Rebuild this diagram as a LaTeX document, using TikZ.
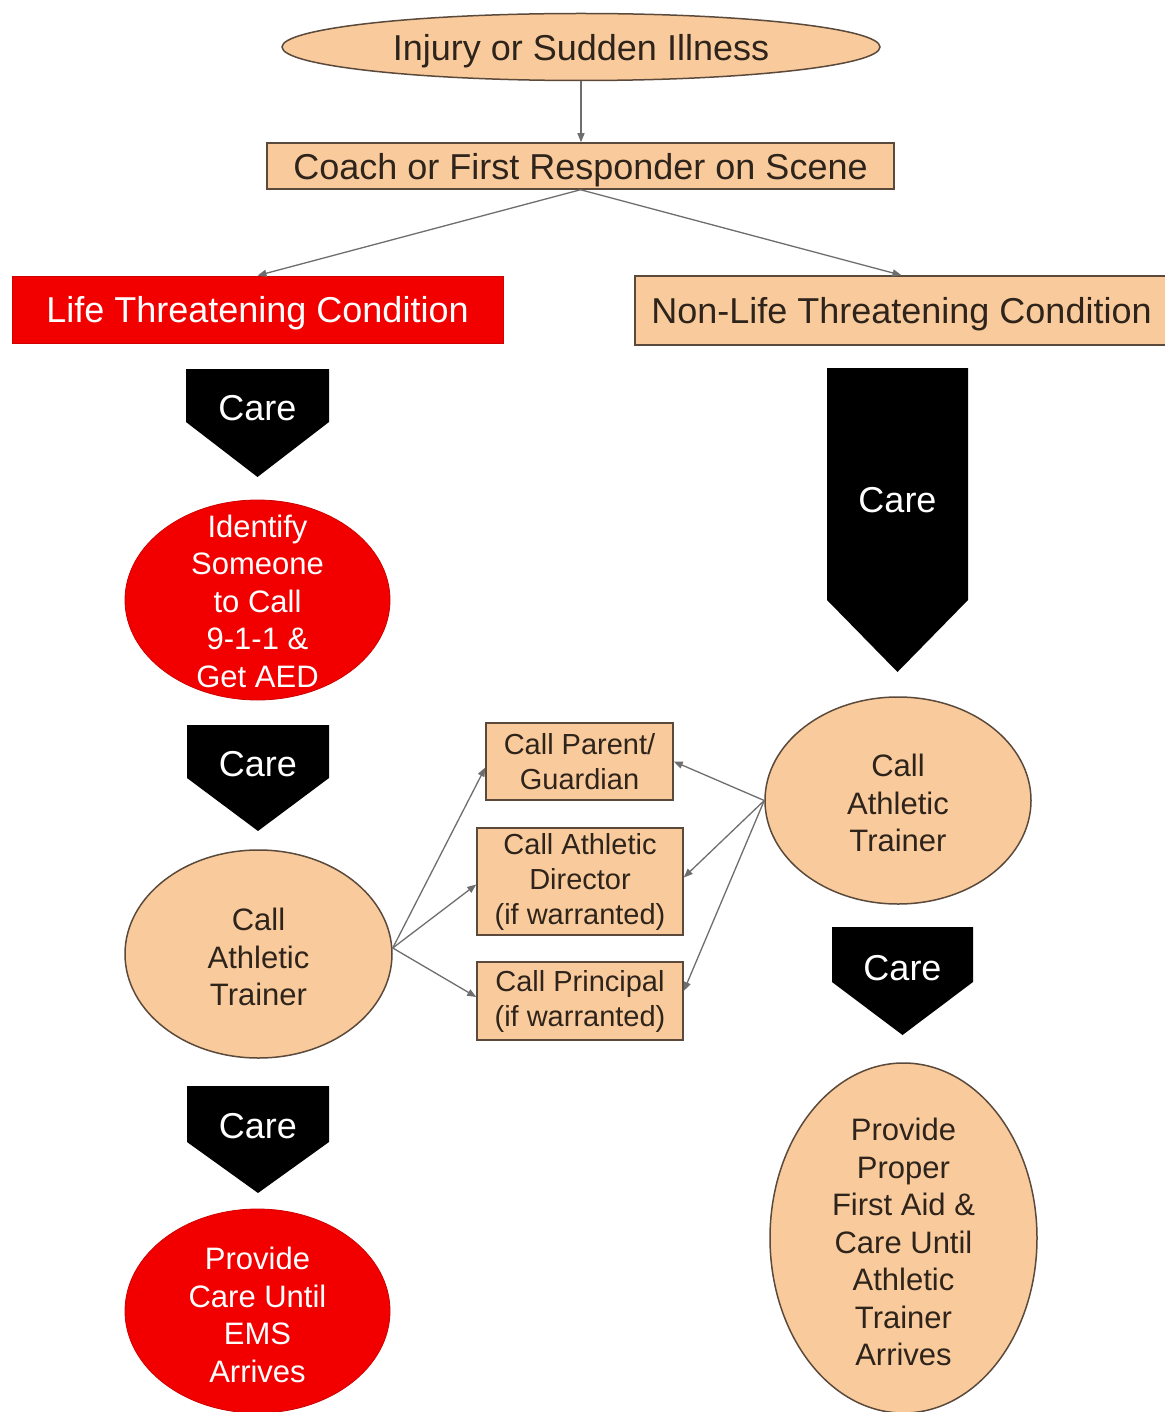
\documentclass[tikz,border=0pt]{standalone}
\usepackage{fontspec}
\setmainfont{Liberation Sans}
\usetikzlibrary{shapes.geometric,arrows.meta}
\definecolor{peach}{HTML}{F9CB9C}
\definecolor{pborder}{HTML}{5B4A3C}
\definecolor{ptext}{HTML}{2E241B}
\definecolor{alarm}{HTML}{F20000}
\definecolor{conncol}{HTML}{6E6E6E}
\begin{document}
\begin{tikzpicture}[x=1pt,y=-1pt,
  pbox/.style={draw=pborder, fill=peach, line width=1.5pt, inner sep=0pt, text=ptext, align=center},
  pell/.style={ellipse, draw=pborder, fill=peach, line width=1.5pt, inner sep=0pt, text=ptext},
  rell/.style={ellipse, fill=alarm, draw=alarm!85!black, line width=0.8pt, inner sep=0pt},
  bigfont/.style={font=\fontsize{36}{40}\selectfont, text depth=0pt},
  midfont/.style={font=\fontsize{29}{35}\selectfont},
  ptxt/.style={text=ptext, align=center, inner sep=0pt, font=\fontsize{31}{37.5}\selectfont},
  wtxt/.style={text=white, align=center, inner sep=0pt, font=\fontsize{31}{37.5}\selectfont},
  caretxt/.style={text=white, inner sep=0pt, font=\fontsize{36}{40}\selectfont},
  conn/.style={draw=conncol, line width=1.3pt, -{Triangle[length=9pt,width=7pt]}},
  carefill/.style={fill=black},
]
\useasboundingbox (0,0) rectangle (1164,1412);
\fill[white] (0,0) rectangle (1164,1412);

% top
\node[pell, bigfont, minimum width=598, minimum height=67] (inj) at (581,47) {Injury or Sudden Illness};
\node[pbox, bigfont, minimum width=627, minimum height=46] (coach) at (580.5,166) {Coach or First Responder on Scene};
\node[fill=alarm, draw=alarm!85!black, line width=0.8pt, inner sep=0pt, text=white, bigfont, minimum width=491, minimum height=67] (life) at (257.5,309.5) {Life Threatening Condition};
\node[pbox, bigfont, minimum width=533, minimum height=69] (nonlife) at (901.5,310.5) {Non-Life Threatening Condition};

% care arrows
\fill[carefill] (186,369) -- (329,369) -- (329,422) -- (257.5,477) -- (186,422) -- cycle;
\node[caretxt] (care1) at (257.5,408) {Care};
\fill[carefill] (187,725) -- (329,725) -- (329,778) -- (258,831) -- (187,778) -- cycle;
\node[caretxt] (care2) at (258,764) {Care};
\fill[carefill] (187,1086) -- (329,1086) -- (329,1142) -- (258,1193) -- (187,1142) -- cycle;
\node[caretxt] (care3) at (258,1126) {Care};
\fill[carefill] (827,368) -- (968,368) -- (968,600) -- (897.5,672) -- (827,600) -- cycle;
\node[caretxt] (care4) at (897.5,500) {Care};
\fill[carefill] (832,927) -- (973,927) -- (973,982) -- (902.5,1035) -- (832,982) -- cycle;
\node[caretxt] (care5) at (902.5,968) {Care};

% left column
\node[rell, minimum width=265, minimum height=200] (ident) at (257.5,600) {};
\node[wtxt] (identT) at (257.5,601) {Identify\\Someone\\to Call\\9-1-1 \&\\Get AED};
\node[pell, minimum width=267, minimum height=208] (latL) at (258.5,954) {};
\node[ptxt] (latLT) at (258.5,957) {Call\\Athletic\\Trainer};
\node[rell, minimum width=265, minimum height=204] (provL) at (257.5,1311) {};
\node[wtxt] (provLT) at (257.5,1315) {Provide\\Care Until\\EMS\\Arrives};

% right column
\node[pell, minimum width=266, minimum height=207] (latR) at (898,800.5) {};
\node[ptxt] (latRT) at (898,803) {Call\\Athletic\\Trainer};
\node[pell, minimum width=267, minimum height=350] (provR) at (903.5,1238) {};
\node[ptxt] (provRT) at (903.5,1242) {Provide\\Proper\\First Aid \&\\Care Until\\Athletic\\Trainer\\Arrives};

% middle boxes
\node[pbox, midfont, minimum width=187, minimum height=77] (parent) at (579.5,761.5) {Call Parent/\\Guardian};
\node[pbox, midfont, minimum width=206, minimum height=107] (ad) at (580,881.5) {Call Athletic\\Director\\(if warranted)};
\node[pbox, midfont, minimum width=206, minimum height=78] (princ) at (580,1001) {Call Principal\\(if warranted)};

% connectors
\draw[conn] (inj.south) -- (inj.south |- coach.north);
\draw[conn] (coach.south) -- (life.north);
\draw[conn] (coach.south) -- (nonlife.north);

\coordinate (lo) at ([yshift=6pt]latL.east);
\draw[conn] (lo) -- ([yshift=-6pt]parent.west);
\draw[conn] (lo) -- ([yshift=-3pt]ad.west);
\draw[conn] (lo) -- ([yshift=4pt]princ.west);
\draw[conn] (latR.west) -- (parent.east);
\draw[conn] (latR.west) -- ([yshift=4pt]ad.east);
\draw[conn] (latR.west) -- ([yshift=10pt]princ.east);
\end{tikzpicture}
\end{document}
